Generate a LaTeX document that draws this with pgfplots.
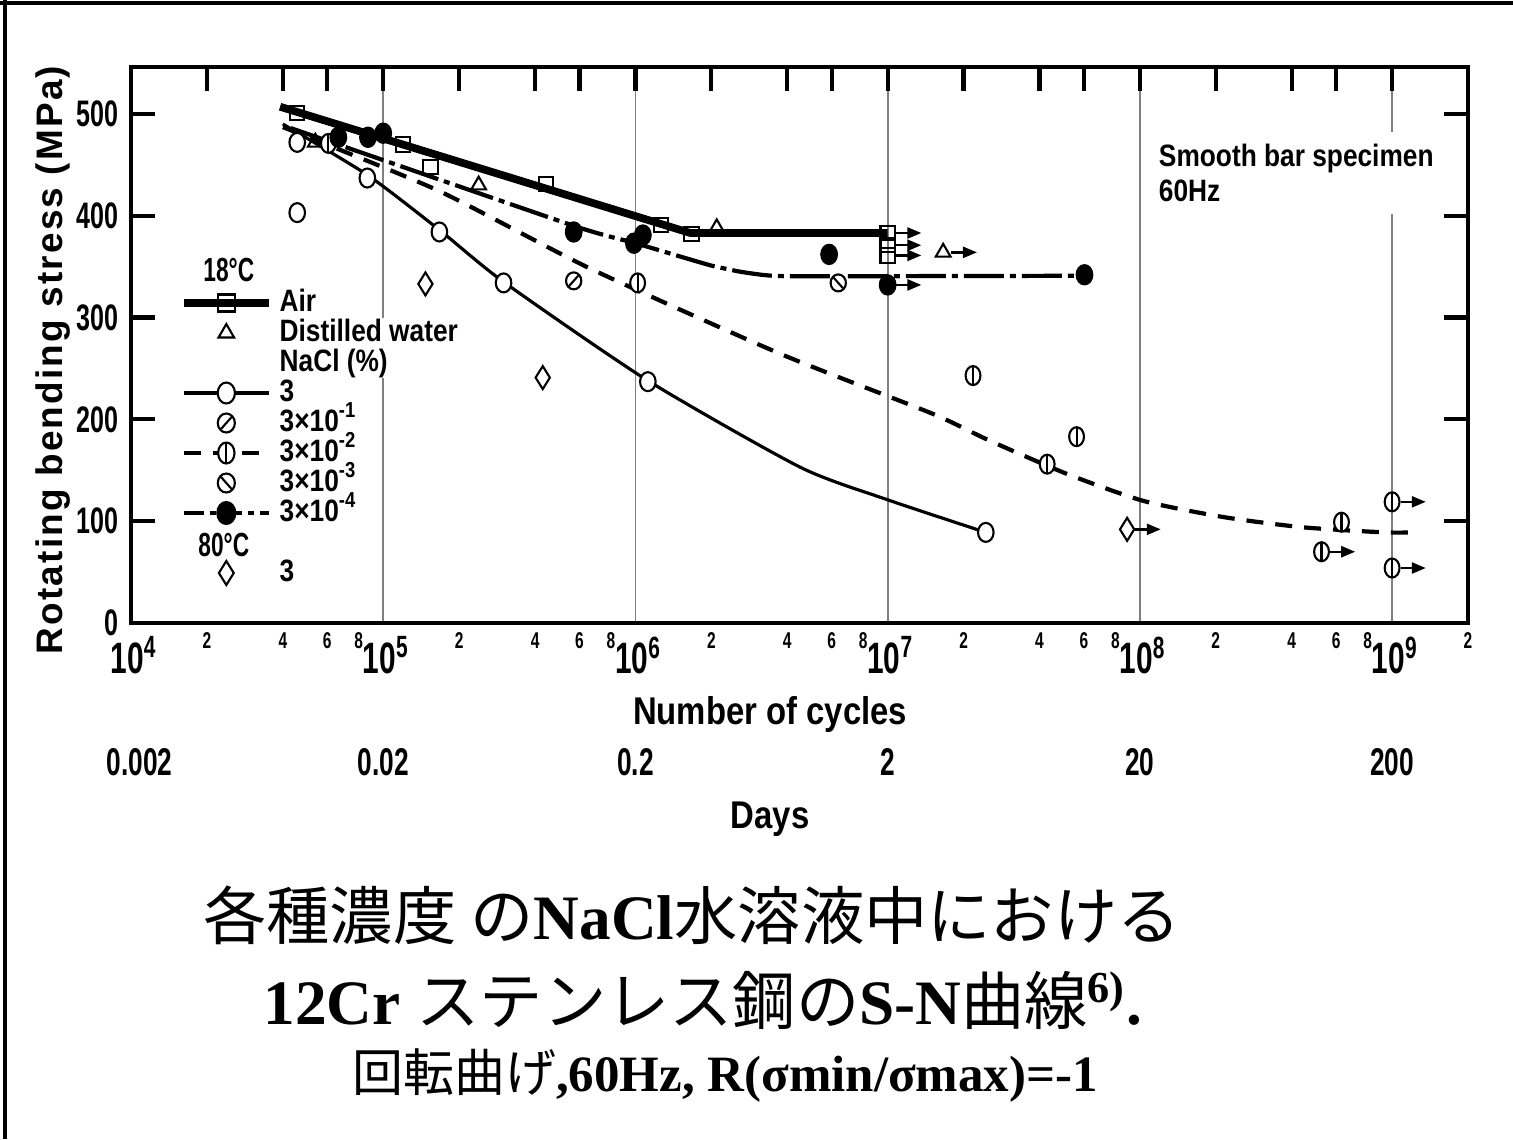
\documentclass[border=0pt]{standalone}
\usepackage{fontspec}
\setmainfont{Liberation Sans}
\newfontfamily\cf{Liberation Sans}[FakeStretch=0.85]
\newfontfamily\tf{Liberation Sans}[FakeStretch=0.68]
\newfontfamily\yf{Liberation Sans}[LetterSpace=6]
\newfontfamily\jp{Noto Sans CJK JP}
\newfontfamily\tnr{Liberation Serif}
\usepackage{pgfplots}
\pgfplotsset{compat=1.18}
\usetikzlibrary{arrows.meta}

\pgfdeclareplotmark{ell}{%
 \pgfpathellipse{\pgfpointorigin}{\pgfqpoint{0.82\pgfplotmarksize}{0pt}}{\pgfqpoint{0pt}{\pgfplotmarksize}}%
 \pgfusepathqfillstroke}
\pgfdeclareplotmark{ellbar}{%
 \pgfpathellipse{\pgfpointorigin}{\pgfqpoint{0.78\pgfplotmarksize}{0pt}}{\pgfqpoint{0pt}{\pgfplotmarksize}}%
 \pgfusepathqfillstroke
 \pgfpathmoveto{\pgfqpoint{0pt}{-\pgfplotmarksize}}\pgfpathlineto{\pgfqpoint{0pt}{\pgfplotmarksize}}\pgfusepathqstroke}
\pgfdeclareplotmark{ellslash}{%
 \pgfpathellipse{\pgfpointorigin}{\pgfqpoint{0.9\pgfplotmarksize}{0pt}}{\pgfqpoint{0pt}{\pgfplotmarksize}}%
 \pgfusepathqfillstroke
 \pgfpathmoveto{\pgfqpoint{-0.55\pgfplotmarksize}{-0.62\pgfplotmarksize}}\pgfpathlineto{\pgfqpoint{0.55\pgfplotmarksize}{0.62\pgfplotmarksize}}\pgfusepathqstroke}
\pgfdeclareplotmark{ellbslash}{%
 \pgfpathellipse{\pgfpointorigin}{\pgfqpoint{0.9\pgfplotmarksize}{0pt}}{\pgfqpoint{0pt}{\pgfplotmarksize}}%
 \pgfusepathqfillstroke
 \pgfpathmoveto{\pgfqpoint{-0.55\pgfplotmarksize}{0.62\pgfplotmarksize}}\pgfpathlineto{\pgfqpoint{0.55\pgfplotmarksize}{-0.62\pgfplotmarksize}}\pgfusepathqstroke}
\pgfdeclareplotmark{tdiamond}{%
 \pgfpathmoveto{\pgfqpoint{0pt}{\pgfplotmarksize}}\pgfpathlineto{\pgfqpoint{0.62\pgfplotmarksize}{0pt}}%
 \pgfpathlineto{\pgfqpoint{0pt}{-\pgfplotmarksize}}\pgfpathlineto{\pgfqpoint{-0.62\pgfplotmarksize}{0pt}}%
 \pgfpathclose\pgfusepathqfillstroke}

\pgfplotsset{
 lineleg/.style={legend image code/.code={\draw[mark repeat=2,mark phase=2,##1] plot coordinates {(0mm,0mm) (4.25mm,0mm) (8.5mm,0mm)};}},
 markleg/.style={legend image code/.code={\path[draw=none] (0mm,0mm) -- (8.5mm,0mm); \path[##1, draw=none] plot[only marks] coordinates {(4.25mm,0mm)};}},
 mk/.style={only marks, forget plot, mark options={solid, fill=white, line width=0.6pt}},
 arr/.style={forget plot, black, line width=0.7pt, -{Triangle[length=1.4mm,width=1.1mm]}},
}

\begin{document}
\begin{tikzpicture}
\path[use as bounding box] (-13.1mm,-51.6mm) rectangle (138.2mm,62.3mm);
\begin{axis}[
 scale only axis, width=133.7mm, height=55.6mm,
 xmode=log, xmin=1e4, xmax=2e9, ymin=0, ymax=546,
 clip=false,
 axis line style={line width=1.4pt},
 xtick={1e4,1e5,1e6,1e7,1e8,1e9},
 xticklabels={10\textsuperscript{4},10\textsuperscript{5},10\textsuperscript{6},10\textsuperscript{7},10\textsuperscript{8},10\textsuperscript{9}},
 minor xtick={2e4,4e4,6e4,2e5,4e5,6e5,2e6,4e6,6e6,2e7,4e7,6e7,2e8,4e8,6e8,2e9},
 xtick pos=right, xticklabel pos=left,
 ytick={0,100,200,300,400,500},
 yticklabels={0,100,200,300,400,500},
 ytick pos=both, yticklabel pos=left,
 tick align=inside,
 major tick length=2.4mm, minor tick length=2.4mm,
 tick style={line width=1.2pt, black},
 xmajorgrids, major grid style={line width=0.5pt, gray},
 xticklabel style={font=\tf\bfseries\fontsize{12.5}{13}\selectfont, inner sep=0pt, anchor=north, yshift=-1.3mm, xshift=0.3mm},
 yticklabel style={font=\tf\bfseries\fontsize{10.5}{12}\selectfont},
 legend style={draw=none, fill=none, at={(rel axis cs:0.0366,0.6565)}, anchor=north west,
   inner sep=0pt, outer sep=0pt, row sep=0pt, column sep=0.6mm,
   font=\cf\bfseries\fontsize{8.8}{10}\selectfont,
   nodes={inner sep=0.1mm, text height=2.2mm, text depth=0.6mm, fill=white},
   cells={anchor=west}},
]
% ---- fitted curves
\addplot[forget plot, black, line width=2.2pt] coordinates {(3.9e4,507) (1.65e6,383) (1.0e7,383)};
\addplot[forget plot, black, line width=0.9pt, smooth, tension=0.4] coordinates {
 (4.0e4,490) (8.65e4,440) (1.67e5,386) (3.0e5,335) (1.12e6,238) (4.5e6,153) (1e7,121) (2.45e7,89)};
\addplot[forget plot, black, line width=1.2pt, dash pattern=on 1.7mm off 1.2mm, smooth, tension=0.4] coordinates {
 (4.0e4,487) (1.64e5,425) (6.5e5,349) (3.7e6,265) (1.49e7,206) (2.49e7,180) (5.07e7,147)
 (1.03e8,120) (2.15e8,104) (4.43e8,94) (9.3e8,89) (1.22e9,89)};
\addplot[forget plot, black, line width=1.2pt, dash pattern=on 4mm off 0.6mm on 0.6mm off 0.6mm, smooth, tension=0.3] coordinates {
 (4.3e4,486) (5.7e5,390) (1e6,373) (1.5e6,360) (2e6,351) (2.6e6,345) (3.3e6,341.5) (4.5e6,340.5) (6.03e7,341)};
% ---- data points
\addplot[mk, mark=square, mark size=0.72mm] coordinates {
 (4.56e4,501) (1.2e5,470) (1.54e5,448) (4.41e5,431) (1.26e6,391) (1.67e6,382) (1e7,383) (1e7,371) (1e7,361)};
\addplot[mk, mark=triangle, mark size=0.85mm] coordinates {
 (5.38e4,472) (2.39e5,430) (2.1e6,388) (1.66e7,364)};
\addplot[mk, mark=ell, mark size=0.95mm] coordinates {
 (4.56e4,472) (4.56e4,403) (8.65e4,437) (1.67e5,384) (3.0e5,334) (1.12e6,237) (2.45e7,89)};
\addplot[mk, mark=ellslash, mark size=0.85mm] coordinates {(5.69e5,336)};
\addplot[mk, mark=ellbslash, mark size=0.85mm] coordinates {(6.37e6,334)};
\addplot[mk, mark=ellbar, mark size=0.95mm] coordinates {
 (6.06e4,471) (1.02e6,334) (2.18e7,243) (5.61e7,183) (4.29e7,156) (6.3e8,99) (5.25e8,70) (1e9,119) (1e9,54)};
\addplot[mk, mark=ell, mark size=1.0mm, mark options={fill=black}] coordinates {
 (6.64e4,477) (8.7e4,477) (1.0e5,481) (5.69e5,384) (9.86e5,373) (1.07e6,381) (5.86e6,362) (1e7,332) (6.03e7,342)};
\addplot[mk, mark=tdiamond, mark size=1.15mm] coordinates {(1.47e5,333) (4.29e5,241) (8.9e7,92)};
% ---- run-outs
\addplot[arr] coordinates {(1.08e7,383) (1.36e7,383)};
\addplot[arr] coordinates {(1.08e7,371) (1.36e7,371)};
\addplot[arr] coordinates {(1.08e7,361) (1.36e7,361)};
\addplot[arr] coordinates {(1.79e7,364) (2.26e7,364)};
\addplot[arr] coordinates {(1.08e7,332) (1.36e7,332)};
\addplot[arr] coordinates {(9.6e7,92) (1.21e8,92)};
\addplot[arr] coordinates {(5.67e8,70) (7.14e8,70)};
\addplot[arr] coordinates {(1.08e9,119) (1.36e9,119)};
\addplot[arr] coordinates {(1.08e9,54) (1.36e9,54)};
% ---- legend
\addlegendimage{empty legend}
\addlegendentry{\makebox[0pt][l]{\hspace*{-7.7mm}\tf\fontsize{9.5}{10}\selectfont 18°C}}
\addlegendimage{lineleg, black, line width=2.2pt, mark=square, mark size=0.85mm, mark options={solid, fill=white, line width=0.6pt}}
\addlegendentry{Air}
\addlegendimage{markleg, black, mark=triangle, mark size=0.9mm, mark options={solid, draw=black, fill=white, line width=0.6pt}}
\addlegendentry{Distilled water}
\addlegendimage{empty legend}
\addlegendentry{NaCl (\%)}
\addlegendimage{lineleg, black, line width=0.9pt, mark=ell, mark size=1.05mm, mark options={solid, fill=white, line width=0.6pt}}
\addlegendentry{3}
\addlegendimage{markleg, black, mark=ellslash, mark size=0.95mm, mark options={solid, draw=black, fill=white, line width=0.6pt}}
\addlegendentry{3×10\textsuperscript{-1}}
\addlegendimage{lineleg, black, line width=1.2pt, dash pattern=on 1.7mm off 1.2mm, mark=ellbar, mark size=1.05mm, mark options={solid, fill=white, line width=0.6pt}}
\addlegendentry{3×10\textsuperscript{-2}}
\addlegendimage{markleg, black, mark=ellbslash, mark size=0.95mm, mark options={solid, draw=black, fill=white, line width=0.6pt}}
\addlegendentry{3×10\textsuperscript{-3}}
\addlegendimage{lineleg, black, line width=1.2pt, dash pattern=on 2mm off 0.6mm on 0.6mm off 0.6mm, mark=ell, mark size=1.1mm, mark options={solid, fill=black, line width=0.6pt}}
\addlegendentry{3×10\textsuperscript{-4}}
\addlegendimage{empty legend}
\addlegendentry{\makebox[0pt][l]{\hspace*{-8.2mm}\raisebox{-0.5mm}{\tf\fontsize{9.5}{10}\selectfont 80°C}}}
\addlegendimage{markleg, black, mark=tdiamond, mark size=1.2mm, mark options={solid, draw=black, fill=white, line width=0.6pt}}
\addlegendentry{3}
% ---- texts
\node[anchor=north west, align=left, fill=white, inner sep=1.2mm, font=\cf\bfseries\fontsize{8.8}{10}\selectfont]
  at (axis cs:1.06e8,483) {Smooth bar specimen\\60Hz};
\pgfplotsinvokeforeach{4,5,6,7,8}{
 \node[anchor=north, inner sep=0pt, font=\tf\bfseries\fontsize{6.5}{7}\selectfont] at (axis cs:2e#1,0) [yshift=-0.9mm] {2};
 \node[anchor=north, inner sep=0pt, font=\tf\bfseries\fontsize{6.5}{7}\selectfont] at (axis cs:4e#1,0) [yshift=-0.9mm] {4};
 \node[anchor=north, inner sep=0pt, font=\tf\bfseries\fontsize{6.5}{7}\selectfont] at (axis cs:6e#1,0) [yshift=-0.9mm] {6};
 \node[anchor=north, inner sep=0pt, font=\tf\bfseries\fontsize{6.5}{7}\selectfont] at (axis cs:8e#1,0) [yshift=-0.9mm] {8};
}
\node[anchor=north, inner sep=0pt, font=\tf\bfseries\fontsize{6.5}{7}\selectfont] at (axis cs:2e9,0) [yshift=-0.9mm] {2};
\node[font=\cf\bfseries\fontsize{11}{12}\selectfont] at (rel axis cs:0.478,0) [yshift=-9.1mm] {Number of cycles};
\node[font=\cf\bfseries\fontsize{11}{12}\selectfont] at (rel axis cs:0.478,0) [yshift=-19.6mm] {Days};
\node[font=\tf\bfseries\fontsize{11}{12}\selectfont] at (axis cs:1.08e4,0) [yshift=-13.9mm] {0.002};
\node[font=\tf\bfseries\fontsize{11}{12}\selectfont] at (axis cs:1e5,0) [yshift=-13.9mm] {0.02};
\node[font=\tf\bfseries\fontsize{11}{12}\selectfont] at (axis cs:1e6,0) [yshift=-13.9mm] {0.2};
\node[font=\tf\bfseries\fontsize{11}{12}\selectfont] at (axis cs:1e7,0) [yshift=-13.9mm] {2};
\node[font=\tf\bfseries\fontsize{11}{12}\selectfont] at (axis cs:1e8,0) [yshift=-13.9mm] {20};
\node[font=\tf\bfseries\fontsize{11}{12}\selectfont] at (axis cs:1e9,0) [yshift=-13.9mm] {200};
\end{axis}
\node[rotate=90, font=\yf\bfseries\fontsize{10.5}{12}\selectfont] at (-7.8mm,26.3mm) {Rotating bending stress (MPa)};
% frame
\draw[line width=0.9pt] (-13.1mm,62.0mm) -- (138.2mm,62.0mm);
\draw[line width=0.9pt] (-12.6mm,62.3mm) -- (-12.6mm,-51.6mm);
% caption
\node[font=\fontsize{18}{20}\selectfont] at (56.1mm,-29.2mm)
  {{\jp 各種濃度 の}{\tnr\bfseries NaCl}{\jp 水溶液中における}};
\node[font=\fontsize{18}{20}\selectfont] at (57.2mm,-37.7mm)
  {{\tnr\bfseries 12Cr }{\jp ステンレス鋼の}{\tnr\bfseries S-N}{\jp 曲線}{\tnr\bfseries\textsuperscript{6)}.}};
\node[font=\fontsize{14.5}{16}\selectfont] at (59.4mm,-45.2mm)
  {{\jp 回転曲げ}{\tnr\bfseries ,60Hz, R(σmin/σmax)=-1}};
\end{tikzpicture}
\end{document}
